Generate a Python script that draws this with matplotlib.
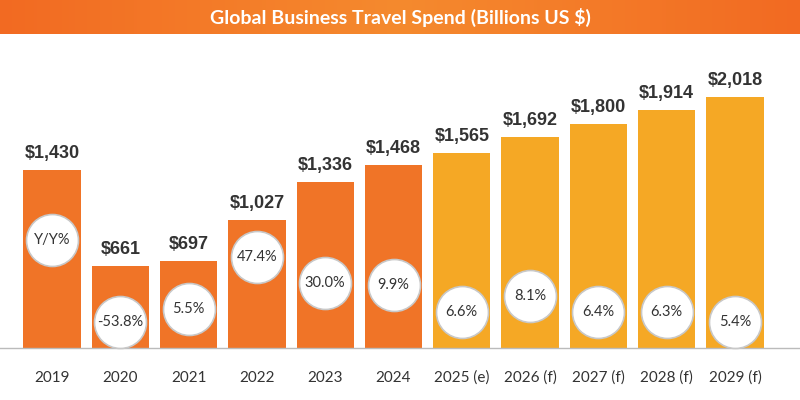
import matplotlib
matplotlib.use("Agg")
import matplotlib.pyplot as plt
import numpy as np
from matplotlib.colors import LinearSegmentedColormap

years = ["2019", "2020", "2021", "2022", "2023", "2024", "2025 (e)", "2026 (f)", "2027 (f)", "2028 (f)", "2029 (f)"]
spend = [1430, 661, 697, 1027, 1336, 1468, 1565, 1692, 1800, 1914, 2018]
value_labels = ["$1,430", "$661", "$697", "$1,027", "$1,336", "$1,468", "$1,565", "$1,692", "$1,800", "$1,914", "$2,018"]
yoy_labels = ["Y/Y%", "-53.8%", "5.5%", "47.4%", "30.0%", "9.9%", "6.6%", "8.1%", "6.4%", "6.3%", "5.4%"]
circle_px = [240, 322, 309, 257, 283, 285, 312, 296, 312, 312, 322]

fig = plt.figure(figsize=(8, 4), dpi=100)
ax = fig.add_axes([0, 0, 1, 1])
ax.set_xlim(-52/68.3, (800-52)/68.3)
scale = 0.1245
ax.set_ylim(-52/scale, 348/scale)
ax.axis("off")

x = np.arange(len(years))
colors = ["#F07427"]*6 + ["#F5A825"]*5
ax.bar(x, spend, width=0.84, color=colors, zorder=2)
ax.axhline(0, color="#bbbbbb", lw=1, zorder=3)
for i in x:
    ax.text(i, spend[i] + 8/scale, value_labels[i], ha="center", va="bottom",
            fontsize=13, fontweight="bold", color="#333333", family="Liberation Sans")
    ax.text(i, -30/scale, years[i], ha="center", va="center", fontsize=11,
            color="#333333", family="Lato")
    cy = (348 - circle_px[i]) / scale
    ax.scatter([i], [cy], s=1400, color="white", edgecolors="#c8c8c8", linewidths=1.2, zorder=4)
    ax.text(i, cy, yoy_labels[i], ha="center", va="center", fontsize=10.5,
            color="#333333", zorder=5, family="Lato")

bax = fig.add_axes([0, 1 - 34/400, 1, 34/400])
grad = np.linspace(0, 1, 256)[None, :]
cm = LinearSegmentedColormap.from_list("g", ["#F26A22", "#F58A2E", "#F26A22"])
bax.imshow(grad, aspect="auto", cmap=cm, extent=[0, 1, 0, 1])
bax.axis("off")
bax.text(0.5, 0.5, "Global Business Travel Spend (Billions US $)", ha="center", va="center",
         color="white", fontsize=14, fontweight="bold", family="Lato")

fig.savefig("out.png", dpi=100)
